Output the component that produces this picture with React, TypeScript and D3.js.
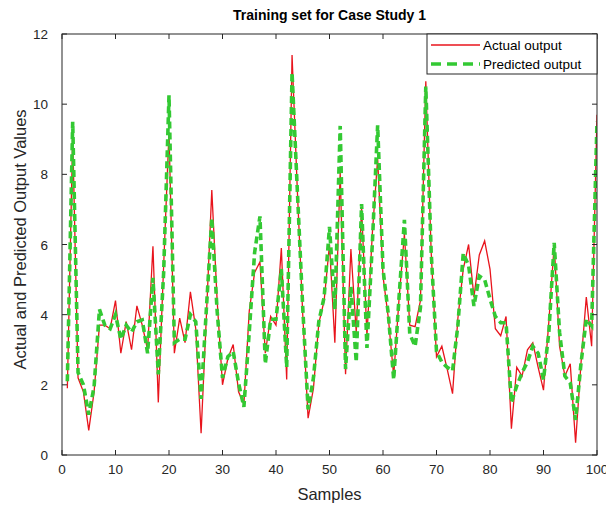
import React from 'react';
import * as d3 from 'd3';

// values, samples 1..100
const actual = [
  1.9, 9.1, 2.2, 1.8, 0.7, 1.8, 3.7, 3.7, 3.6, 4.4,
  2.9, 3.8, 3.0, 4.25, 3.7, 3.0, 5.95, 1.5, 5.4, 9.2,
  2.9, 3.9, 3.2, 4.65, 3.6, 0.62, 4.0, 7.55, 4.4, 2.0,
  2.75, 3.15, 1.8, 1.45, 4.1, 5.2, 5.5, 2.9, 3.95, 3.7,
  5.9, 2.15, 11.4, 7.5, 4.0, 1.05, 1.9, 3.75, 4.4, 6.0,
  3.2, 8.05, 2.3, 5.87, 3.5, 7.05, 3.4, 6.3, 8.45, 5.1,
  3.9, 2.25, 4.45, 6.3, 3.7, 3.66, 4.4, 10.65, 5.8, 2.8,
  3.1, 2.45, 1.75, 3.9, 5.3, 6.0, 4.5, 5.7, 6.1, 5.3,
  3.6, 3.4, 3.95, 0.75, 2.5, 2.25, 3.0, 3.2, 2.5, 1.85,
  3.8, 6.0, 3.1, 2.25, 2.6, 0.35, 2.6, 4.5, 3.1, 9.7,
];

const predicted = [
  2.1, 9.5, 2.35, 2.0, 1.15, 1.95, 4.15, 3.7, 3.6, 4.0,
  3.3, 3.7, 3.5, 3.8, 3.85, 2.9, 5.05, 2.3, 5.2, 10.25,
  3.2, 3.3, 3.3, 4.0, 3.8, 1.6, 4.2, 6.75, 4.1, 2.2,
  2.8, 2.95, 2.05, 1.37, 3.5, 5.77, 6.8, 2.6, 3.87, 3.87,
  5.3, 2.5, 10.9, 7.5, 4.2, 1.3, 2.2, 3.8, 4.5, 6.5,
  4.15, 9.38, 2.45, 4.8, 2.65, 7.15, 3.05, 6.0, 9.4, 5.3,
  4.0, 2.15, 4.5, 6.7, 3.45, 3.1, 4.2, 10.5, 5.8, 2.95,
  2.65, 2.5, 2.4, 3.7, 5.75, 5.4, 4.25, 5.1, 5.0, 4.45,
  3.95, 3.77, 3.77, 1.5, 1.97, 2.35, 2.65, 3.1, 2.9, 2.15,
  3.5, 6.05, 3.5, 2.25, 2.05, 1.0, 2.6, 3.87, 3.68, 9.5,
];

const xTicks = [0, 10, 20, 30, 40, 50, 60, 70, 80, 90, 100];
const yTicks = [0, 2, 4, 6, 8, 10, 12];

const W = 606;
const H = 506;
const font = '"Liberation Sans", Arial, sans-serif';

export default function App() {
  const x = d3.scaleLinear().domain([0, 100]).range([62, 597]);
  const y = d3.scaleLinear().domain([0, 12]).range([455, 34]);

  const line = d3.line<number>()
    .x((d, i) => x(i + 1))
    .y(d => y(d));

  const [x0, x1] = x.range();
  const [y0, y1] = y.range();
  const axisColor = '#262626';
  const tickLen = 5;

  return (
    <svg width={W} height={H} style={{ position: 'fixed', left: 0, top: 0, background: '#fff' }}>
      <defs>
        <clipPath id="plot">
          <rect x={x0} y={y1} width={x1 - x0} height={y0 - y1} />
        </clipPath>
      </defs>

      <g clipPath="url(#plot)">
        <path d={line(actual) || ''} fill="none" stroke="#e8141c" strokeWidth={1.3} />
        <path d={line(predicted) || ''} fill="none" stroke="#33c933" strokeWidth={3.6}
          strokeDasharray="7,4" />
      </g>

      {/* box */}
      <rect x={x0} y={y1} width={x1 - x0} height={y0 - y1} fill="none" stroke={axisColor} strokeWidth={1} />

      {xTicks.map(t => (
        <g key={'x' + t}>
          <line x1={x(t)} x2={x(t)} y1={y0} y2={y0 - tickLen} stroke={axisColor} />
          <line x1={x(t)} x2={x(t)} y1={y1} y2={y1 + tickLen} stroke={axisColor} />
          <text x={x(t)} y={y0 + 19} textAnchor="middle" fontSize={13.5} fontFamily={font} fill={axisColor}>{t}</text>
        </g>
      ))}
      {yTicks.map(t => (
        <g key={'y' + t}>
          <line x1={x0} x2={x0 + tickLen} y1={y(t)} y2={y(t)} stroke={axisColor} />
          <line x1={x1} x2={x1 - tickLen} y1={y(t)} y2={y(t)} stroke={axisColor} />
          <text x={x0 - 14} y={y(t) + 5} textAnchor="end" fontSize={13.5} fontFamily={font} fill={axisColor}>{t}</text>
        </g>
      ))}

      <text x={(x0 + x1) / 2} y={20} textAnchor="middle" fontSize={14} fontWeight="bold" fontFamily={font} fill="#000">
        Training set for Case Study 1
      </text>
      <text x={(x0 + x1) / 2} y={500} textAnchor="middle" fontSize={16.5} fontFamily={font} fill={axisColor}>Samples</text>
      <text transform={`translate(26,${(y0 + y1) / 2 - 5}) rotate(-90)`} textAnchor="middle" fontSize={16.5} fontFamily={font} fill={axisColor}>
        Actual and Predicted Output Values
      </text>

      {/* legend */}
      <g>
        <rect x={427} y={34} width={170} height={40} fill="#fff" stroke={axisColor} strokeWidth={1} />
        <line x1={431} x2={480} y1={45} y2={45} stroke="#e8141c" strokeWidth={1.3} />
        <line x1={431} x2={480} y1={64} y2={64} stroke="#33c933" strokeWidth={3.6} strokeDasharray="10,6" />
        <text x={483} y={50} fontSize={13.5} fontFamily={font} fill="#000">Actual output</text>
        <text x={483} y={69} fontSize={13.5} fontFamily={font} fill="#000">Predicted output</text>
      </g>
    </svg>
  );
}
